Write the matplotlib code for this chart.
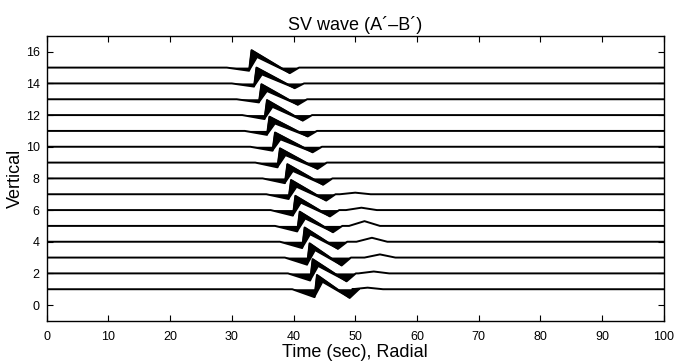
import numpy as np
import matplotlib
matplotlib.use("Agg")
import matplotlib.pyplot as plt

plt.rcParams['font.family'] = ['Liberation Sans', 'DejaVu Sans']

# trace number (vertical offset), 1 = bottom
traces = np.arange(1, 16)

# values, traces 1..15
spike_t = [43.8, 43.1, 42.6, 41.8, 41.0, 40.3, 39.6, 39.0, 37.8, 37.0, 36.1, 35.7, 34.8, 34.0, 33.2]
spike_amp = [0.9, 0.9, 0.9, 0.9, 0.9, 0.9, 0.9, 0.9, 0.9, 0.9, 0.9, 0.95, 0.95, 1.0, 1.1]
trough_t = [49.1, 48.6, 47.8, 47.2, 46.4, 45.9, 45.3, 44.8, 43.9, 43.1, 42.3, 41.5, 40.7, 40.2, 39.4]
trough_amp = [-0.55, -0.5, -0.5, -0.45, -0.4, -0.4, -0.4, -0.4, -0.4, -0.35, -0.35, -0.35, -0.35, -0.3, -0.35]
predip_amp = [-0.5, -0.45, -0.45, -0.4, -0.35, -0.35, -0.3, -0.3, -0.3, -0.25, -0.25, -0.25, -0.2, -0.2, -0.2]
late_t = [52.0, 53.0, 54.0, 52.7, 51.5, 51.0, 50.0, 0, 0, 0, 0, 0, 0, 0, 0]
late_amp = [0.1, 0.12, 0.2, 0.25, 0.3, 0.15, 0.1, 0, 0, 0, 0, 0, 0, 0, 0]

xticks = np.arange(0, 101, 10)
yticks = np.arange(0, 17, 2)


def trace_points(i):
    t0, t1 = spike_t[i], trough_t[i]
    t = [0, t0 - 4.0, t0 - 0.4, t0, t1, t1 + 1.5]
    a = [0, 0, predip_amp[i], spike_amp[i], trough_amp[i], 0]
    if late_amp[i] > 0:
        t += [late_t[i] - 2.5, late_t[i], late_t[i] + 2.5]
        a += [0, late_amp[i], 0]
    t.append(100)
    a.append(0)
    return np.array(t), np.array(a)


fig = plt.figure(figsize=(6.76, 3.63), dpi=100)
ax = fig.add_axes([0.069, 0.116, 0.913, 0.785])

for i, k in enumerate(traces):
    t, a = trace_points(i)
    ax.plot(t, k + a, color='black', linewidth=1.4)
    ax.fill_between(t, k, k + a, where=a < 0, interpolate=True,
                    color='black', linewidth=0)
    # the main arrival drawn as a thick wedge thinning toward the trough
    t0, t1 = spike_t[i], trough_t[i]
    wedge_t = [t0 - 0.4, t0, t1, t0 + 0.9]
    wedge_a = [predip_amp[i], spike_amp[i], trough_amp[i], spike_amp[i] - 0.45]
    ax.fill(wedge_t, k + np.array(wedge_a), color='black', linewidth=1.0,
            edgecolor='black')

ax.set_xlim(0, 100)
ax.set_ylim(-1, 17)
ax.set_xticks(xticks)
ax.set_yticks(yticks)
ax.tick_params(direction='in', top=True, right=True, length=4,
               labelsize=9, width=0.8, pad=5)
ax.tick_params(axis='x', pad=7)
for s in ax.spines.values():
    s.set_linewidth(1.0)

ax.set_title('SV wave (A\u00b4\u2013B\u00b4)', fontsize=13, pad=4)
ax.set_xlabel('Time (sec), Radial', fontsize=13, labelpad=1)
ax.set_ylabel('Vertical', fontsize=13, labelpad=1)

fig.savefig('out.png', dpi=100)
